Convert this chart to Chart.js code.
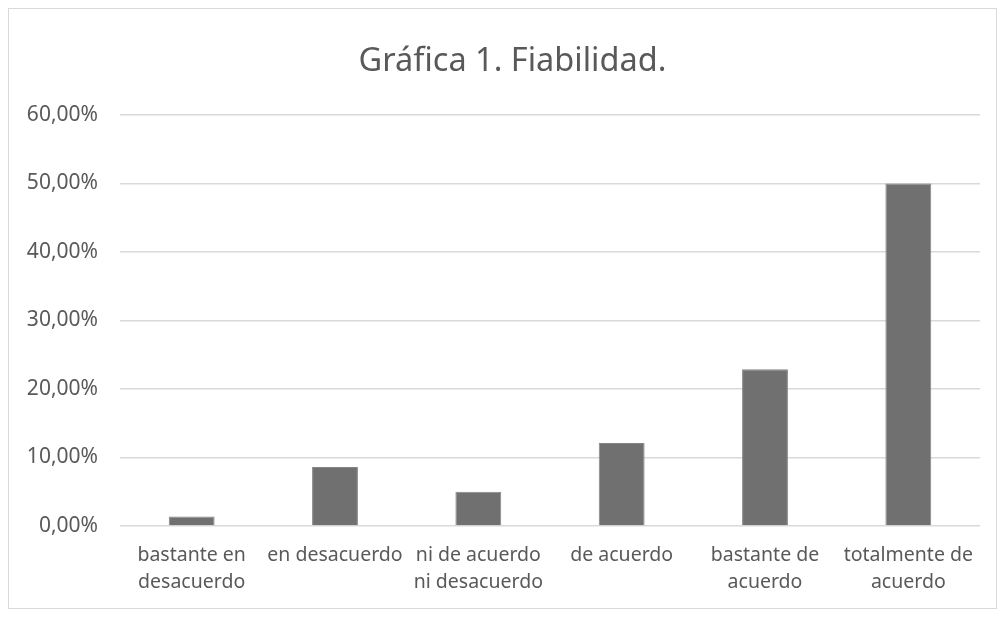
<!DOCTYPE html>
<html>
<head>
<meta charset="utf-8">
<script src="https://cdn.jsdelivr.net/npm/chart.js@4"></script>
<style>
  body { margin: 0; background: #fff; }
  #box {
    position: absolute; left: 8px; top: 8px;
    width: 987px; height: 599px;
    border: 1px solid #d9d9d9; background: #fff;
  }
</style>
</head>
<body>
<div id="box"><canvas id="chart" width="987" height="599"></canvas></div>
<script>
const chartTitle = "Gráfica 1. Fiabilidad.";
const categories = [
  ["bastante en", "desacuerdo"],
  "en desacuerdo",
  ["ni de acuerdo", "ni desacuerdo"],
  "de acuerdo",
  ["bastante de", "acuerdo"],
  ["totalmente de", "acuerdo"]
];
const percentages = [1.4, 8.6, 5.0, 12.1, 22.9, 50.0];
const yTicks = [0, 10, 20, 30, 40, 50, 60];

const textColor = "#595959";
const fontFamily = "'Noto Sans', 'Open Sans', sans-serif";

// the title sits a little right of centre in the original
const titleShift = {
  id: "titleShift",
  afterLayout(chart) {
    if (chart.titleBlock) chart.titleBlock.left += 36;
  }
};

new Chart(document.getElementById("chart"), {
  type: "bar",
  data: {
    labels: categories,
    datasets: [{
      data: percentages,
      backgroundColor: "#707070",
      borderColor: "#858585",
      borderWidth: 1,
      barPercentage: 0.32,
      categoryPercentage: 1
    }]
  },
  options: {
    responsive: false,
    animation: false,
    layout: { padding: { left: 0, right: 16, top: 0, bottom: 0 } },
    plugins: {
      legend: { display: false },
      tooltip: { enabled: false },
      title: {
        display: true,
        text: chartTitle,
        color: textColor,
        font: { family: fontFamily, size: 32.5, weight: "normal", lineHeight: 1.2 },
        padding: { top: 33, bottom: 34 }
      }
    },
    scales: {
      x: {
        grid: { display: false, drawTicks: false },
        border: { display: false },
        ticks: {
          color: textColor,
          font: { family: fontFamily, size: 19.5, lineHeight: 1.38 },
          padding: 16,
          maxRotation: 0,
          autoSkip: false
        },
        afterFit: s => { s.height = 82; }
      },
      y: {
        min: 0,
        max: 60,
        afterBuildTicks: s => { s.ticks = yTicks.map(v => ({ value: v })); },
        grid: { color: "#d9d9d9", lineWidth: 1.5, drawTicks: false },
        border: { display: false },
        ticks: {
          color: textColor,
          font: { family: fontFamily, size: 21 },
          padding: 22,
          callback: v => v.toFixed(2).replace(".", ",") + "%"
        },
        afterFit: s => { s.width = 111; }
      }
    }
  },
  plugins: [titleShift]
});
</script>
</body>
</html>
